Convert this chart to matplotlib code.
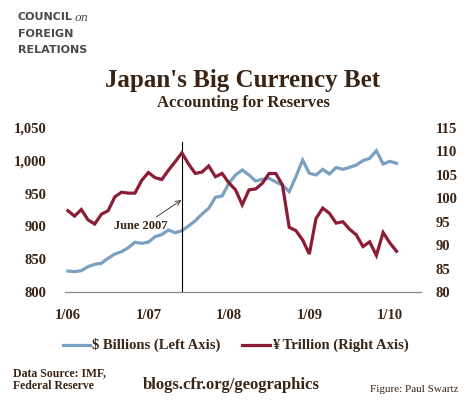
import matplotlib.pyplot as plt

# months since 1/06 (Jan 2006 .. Feb 2010)
months = list(range(50))

usd_billions = [832, 831, 832.5, 838.6, 842.2, 843.8, 851.4, 857.9, 861.4, 867.5,
                875.8, 874.2, 876, 884.3, 887.6, 894.5, 890.3, 893.4, 900.6, 908.7,
                918.9, 927.6, 944.4, 946.3, 965.7, 978.4, 986, 978.4, 969.2, 971.8,
                973.3, 967.7, 963.1, 952.9, 975.8, 1001.2, 981, 978.4, 987, 979.9,
                989.8, 987, 990, 993.6, 1000.2, 1003.8, 1015.4, 995.1, 999.2, 996.2]

yen_trillion = [97.35, 96.2, 97.6, 95.4, 94.5, 96.6, 97.35, 100.3, 101.3, 101.1,
                101.1, 103.8, 105.5, 104.4, 104.0, 106.0, 107.8, 109.7, 107.3, 105.3,
                105.6, 106.9, 104.6, 105.3, 103.3, 101.8, 98.6, 101.8, 102.0, 103.2,
                105.3, 105.3, 102.8, 93.8, 93.1, 91.1, 88.1, 95.7, 97.9, 96.8,
                94.7, 95.0, 93.4, 92.2, 89.7, 90.7, 87.8, 92.7, 90.5, 88.7]

tick_pos = [0, 12, 24, 36, 48]
tick_labels = ['1/06', '1/07', '1/08', '1/09', '1/10']
left_ticks = [800, 850, 900, 950, 1000, 1050]
right_ticks = [80, 85, 90, 95, 100, 105, 110, 115]

BLUE = '#7ba1c2'
RED = '#8c1c35'
TXT = '#3a2414'
SERIF = 'Liberation Serif'

fig = plt.figure(figsize=(4.7, 4.0), dpi=100)
ax = fig.add_axes([0.138, 0.27, 0.757, 0.41])
ax2 = ax.twinx()

ax.plot(months, usd_billions, color=BLUE, lw=2.3, solid_joinstyle='miter')
ax2.plot(months, yen_trillion, color=RED, lw=2.3, solid_joinstyle='miter')

ax.set_xlim(-0.45, 52.6)
ax.set_ylim(800, 1050)
ax2.set_ylim(80, 115)
ax.set_xticks(tick_pos)
ax.set_xticklabels(tick_labels)
ax.set_yticks(left_ticks)
ax.set_yticklabels(['{:,}'.format(v) for v in left_ticks])
ax2.set_yticks(right_ticks)

for a in (ax, ax2):
    for s in ('top', 'left', 'right'):
        a.spines[s].set_visible(False)
    a.spines['bottom'].set_color('#8a8a8a')
    a.tick_params(length=0)
    for lab in a.get_xticklabels() + a.get_yticklabels():
        lab.set_fontfamily(SERIF)
        lab.set_fontweight('bold')
        lab.set_fontsize(10.5)
        lab.set_color(TXT)
ax.tick_params(axis='x', pad=12)
ax.tick_params(axis='y', pad=13)
ax2.tick_params(axis='y', pad=11)

# June 2007 marker
ax.plot([17, 17], [800, 1028.5], color='black', lw=0.8)
ax.annotate('June 2007', xy=(16.9, 940), xytext=(10.8, 901),
            ha='center', va='center', fontsize=9, fontweight='bold',
            family=SERIF, color=TXT,
            arrowprops=dict(arrowstyle='->', color=TXT, lw=0.6,
                            shrinkA=0, shrinkB=0,
                            relpos=(0.72, 1.0)))

# titles
fig.text(0.517, 0.80, "Japan's Big Currency Bet", ha='center', va='center',
         fontsize=18, fontweight='bold', family=SERIF, color=TXT)
fig.text(0.517, 0.743, 'Accounting for Reserves', ha='center', va='center',
         fontsize=12, fontweight='bold', family=SERIF, color=TXT)

# logo
fig.text(0.038, 0.958, 'COUNCIL', fontsize=8, fontweight='bold',
         family='DejaVu Sans', color='#4a4a4a', va='center')
fig.text(0.158, 0.954, 'on', fontsize=8, style='italic',
         family='DejaVu Serif', color='#4a4a4a', va='center')
fig.text(0.038, 0.916, 'FOREIGN', fontsize=8, fontweight='bold',
         family='DejaVu Sans', color='#4a4a4a', va='center')
fig.text(0.038, 0.874, 'RELATIONS', fontsize=8, fontweight='bold',
         family='DejaVu Sans', color='#4a4a4a', va='center')

# legend
fig.lines.append(plt.Line2D([0.134, 0.192], [0.137, 0.137], color=BLUE, lw=2.3,
                            transform=fig.transFigure))
fig.text(0.195, 0.137, '$ Billions (Left Axis)', fontsize=10.5, fontweight='bold',
         family=SERIF, color=TXT, va='center')
fig.lines.append(plt.Line2D([0.515, 0.575], [0.137, 0.137], color=RED, lw=2.3,
                            transform=fig.transFigure))
fig.text(0.578, 0.137, '¥ Trillion (Right Axis)', fontsize=10.5, fontweight='bold',
         family=SERIF, color=TXT, va='center')

# footer
fig.text(0.028, 0.083, 'Data Source: IMF,\nFederal Reserve', fontsize=8.5,
         fontweight='bold', family=SERIF, color=TXT, va='top',
         linespacing=1.15)
fig.text(0.493, 0.037, 'blogs.cfr.org/geographics', fontsize=12, fontweight='bold',
         family=SERIF, color=TXT, ha='center', va='center')
fig.text(0.975, 0.025, 'Figure: Paul Swartz', fontsize=8, family=SERIF,
         color=TXT, ha='right', va='center')

fig.savefig('out.png', dpi=100)
